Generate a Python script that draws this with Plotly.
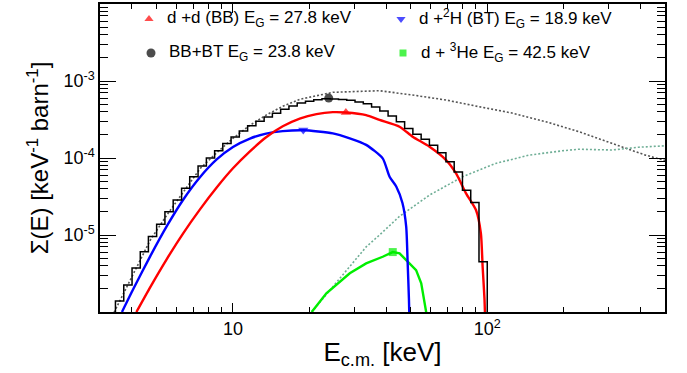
import plotly.graph_objects as go

# ---------------- data ----------------
# gray dotted envelope
gray_E = [3.3, 3.72, 4.06, 4.73, 5.5, 6.38, 7.43, 8.63, 10.0, 11.66, 13.5, 15.7, 18.3, 24.7,
          33.4, 37.7, 50.8, 68.9, 93.1, 125, 170, 229, 309, 419, 500]
gray_S = [8e-7, 1.75e-6, 3.18e-6, 8.6e-6, 1.82e-5, 3.65e-5, 7.3e-5, 1.17e-4, 1.8e-4, 2.66e-4,
          3.61e-4, 4.7e-4, 5.78e-4, 7.13e-4, 7.48e-4, 7.48e-4, 6.58e-4, 5.66e-4, 4.63e-4,
          3.84e-4, 2.96e-4, 2.2e-4, 1.55e-4, 1.09e-4, 9.3e-5]

# teal dotted curve
teal_E = [20.4, 24.7, 33.4, 37.7, 45.2, 59.3, 80, 108, 146, 197, 229, 309, 394, 500]
teal_S = [1e-6, 2.13e-6, 7.0e-6, 1.0e-5, 1.75e-5, 3.3e-5, 5.71e-5, 8.5e-5, 1.09e-4, 1.24e-4,
          1.3e-4, 1.27e-4, 1.38e-4, 1.44e-4]

# d + 3He (green)
green_E = [20.4, 23.3, 28.8, 33.4, 38.8, 42.5, 45.2, 49.4, 52.5, 55.0, 56.6, 57.5, 58.2]
green_S = [1e-6, 1.75e-6, 3.18e-6, 4.28e-6, 5.22e-6, 6.0e-6, 5.78e-6, 4.28e-6, 3.5e-6,
           2.36e-6, 1.43e-6, 1.0e-6, 5e-7]

# d + 2H (BT) (blue)
blue_E = [3.66, 4.06, 4.73, 5.5, 6.38, 7.43, 8.63, 10.0, 11.66, 13.5, 15.7, 18.9, 24.7, 28.8,
          33.4, 38.8, 41.3, 43.9, 46.4, 48.0, 48.6, 49.2, 49.6]
blue_S = [1e-6, 2.0e-6, 5.31e-6, 1.31e-5, 2.89e-5, 5.66e-5, 9.57e-5, 1.39e-4, 1.79e-4, 2.07e-4,
          2.23e-4, 2.29e-4, 2.09e-4, 1.8e-4, 1.48e-4, 9.9e-5, 5.7e-5, 4.24e-5, 2.6e-5, 1.28e-5,
          4.7e-6, 1.5e-6, 5e-7]

# d + d (BB) (red)
red_E = [4.17, 4.73, 5.5, 6.38, 7.43, 8.63, 10.0, 11.66, 13.5, 15.7, 18.3, 21.3, 24.7, 27.8,
         33.4, 37.7, 45.2, 50.9, 59.3, 68.9, 75.4, 82.5, 90.3, 94.4, 95.9, 97.5, 98.5]
red_S = [1e-6, 2.11e-6, 4.91e-6, 1.06e-5, 2.17e-5, 4.14e-5, 7.35e-5, 1.22e-4, 1.86e-4, 2.58e-4,
         3.25e-4, 3.72e-4, 3.94e-4, 3.9e-4, 3.61e-4, 3.12e-4, 2.55e-4, 1.89e-4, 1.4e-4, 9.4e-5,
         6.3e-5, 3.48e-5, 2.11e-5, 1.05e-5, 3.87e-6, 1.5e-6, 5e-7]

# BB+BT histogram (black): bin edges and bin contents
bb_bt_edges = [3.20, 3.45, 3.72, 4.01, 4.32, 4.65, 5.01, 5.40, 5.82, 6.28, 6.76, 7.29, 7.86, 8.47,
               9.12, 9.83, 10.59, 11.42, 12.31, 13.26, 14.29, 15.40, 16.60, 17.89, 19.28, 20.78,
               22.39, 24.13, 26.00, 28.02, 30.20, 32.55, 35.08, 37.80, 40.74, 43.91, 47.32,
               50.99, 54.96, 59.23, 63.83, 68.79, 74.13, 79.89, 86.10, 92.79, 100.0]
bb_bt_vals = [9e-7, 1.39e-6, 2.25e-6, 3.72e-6, 6.05e-6, 9.55e-6, 1.38e-5, 2.0e-5, 2.85e-5,
              4.05e-5, 5.7e-5, 7.9e-5, 1.0e-4, 1.24e-4, 1.54e-4, 1.88e-4, 2.24e-4, 2.62e-4,
              3.0e-4, 3.4e-4, 3.82e-4, 4.3e-4, 4.73e-4, 5.18e-4, 5.45e-4, 5.69e-4, 5.86e-4,
              5.83e-4, 5.73e-4, 5.62e-4, 5.32e-4, 5.05e-4, 4.61e-4, 4.07e-4, 3.52e-4, 2.95e-4,
              2.42e-4, 2.03e-4, 1.75e-4, 1.46e-4, 1.17e-4, 8.95e-5, 6.6e-5, 3.8e-5, 2.65e-5,
              4.5e-6]
hist_floor = 1e-7

# Gamow-peak markers
peak_names = ["d +d (BB) E<sub>G</sub> = 27.8 keV",
              "d +<sup>2</sup>H (BT) E<sub>G</sub> = 18.9 keV",
              "BB+BT E<sub>G</sub> = 23.8 keV",
              "d + <sup>3</sup>He E<sub>G</sub> = 42.5 keV"]
peak_E = [27.8, 18.9, 23.8, 42.5]
peak_S = [3.9e-4, 2.31e-4, 6.0e-4, 6.0e-6]

# axis ticks
x_tickvals = [10, 100]
x_ticktext = ["10", "10<sup>2</sup>"]
x_minor = [4, 5, 6, 7, 8, 9, 20, 30, 40, 50, 60, 70, 80, 90, 200, 300, 400]
y_tickvals = [1e-5, 1e-4, 1e-3]
y_ticktext = ["10<sup>-5</sup>", "10<sup>-4</sup>", "10<sup>-3</sup>"]
y_minor = [m * 10 ** d for d in (-6, -5, -4, -3) for m in (2, 3, 4, 5, 6, 7, 8, 9)]

# ---------------- styles ----------------
FONT = "Liberation Sans, Arial, Helvetica, sans-serif"
colors = ["#ff0000", "#0000ff", "#000000", "#00ee00"]
symbols = ["triangle-up", "triangle-down", "circle", "square"]
sizes = [9, 9, 9, 8]

W, H = 687, 373
ML, MR, MT, MB = 100, 22, 4, 61
PW, PH = W - ML - MR, H - MT - MB

fig = go.Figure()

fig.add_trace(go.Scatter(x=gray_E, y=gray_S, mode="lines",
                         line=dict(color="#555555", width=1.6, dash="2px,2px"), showlegend=False))
fig.add_trace(go.Scatter(x=teal_E, y=teal_S, mode="lines",
                         line=dict(color="#6fae96", width=1.6, dash="2px,2px"), showlegend=False))
fig.add_trace(go.Scatter(x=green_E, y=green_S, mode="lines",
                         line=dict(color="#00ee00", width=2.4), showlegend=False))
fig.add_trace(go.Scatter(x=blue_E, y=blue_S, mode="lines",
                         line=dict(color="#0000ff", width=2.4, shape="spline", smoothing=0.6),
                         showlegend=False))
fig.add_trace(go.Scatter(x=red_E, y=red_S, mode="lines",
                         line=dict(color="#ff0000", width=2.4, shape="spline", smoothing=0.6),
                         showlegend=False))

hx = list(bb_bt_edges)
hy = list(bb_bt_vals) + [hist_floor]
fig.add_trace(go.Scatter(x=[bb_bt_edges[0]] + hx, y=[hist_floor] + hy, mode="lines",
                         line=dict(color="#000000", width=1.5, shape="hv"), showlegend=False))

fig.add_trace(go.Scatter(x=peak_E, y=peak_S, mode="markers",
                         marker=dict(color=colors, symbol=symbols, size=sizes, line=dict(width=0)),
                         showlegend=False, cliponaxis=False))

# ---------------- hand-made legend (pixel layout) ----------------
leg_px = [(149, 19), (401, 19), (151, 53), (403, 53)]
leg_txt_dx = 16
lx = [(p[0] - ML) / PW for p in leg_px]
ly = [(H - MB - p[1]) / PH for p in leg_px]
fig.add_trace(go.Scatter(x=lx, y=ly, xaxis="x2", yaxis="y2", mode="markers",
                         marker=dict(color=colors, symbol=symbols, size=[8, 8, 9, 7],
                                     line=dict(width=0)),
                         showlegend=False, cliponaxis=False))
for i, name in enumerate(peak_names):
    fig.add_annotation(text=name, xref="paper", yref="paper",
                       x=(leg_px[i][0] + leg_txt_dx - ML) / PW, y=ly[i],
                       xanchor="left", yanchor="middle", showarrow=False,
                       font=dict(family=FONT, size=17, color="black"))

axis_common = dict(showgrid=False, zeroline=False, showline=True, linecolor="black",
                   linewidth=1.5, mirror="allticks", ticks="inside", tickcolor="black",
                   tickwidth=1.2, tickfont=dict(family=FONT, size=18, color="black"))

fig.update_layout(
    width=W, height=H,
    margin=dict(l=ML, r=MR, t=MT, b=MB, autoexpand=False),
    paper_bgcolor="white", plot_bgcolor="white",
    showlegend=False,
    xaxis=dict(type="log", range=[0.4771, 2.699], tickvals=x_tickvals, ticktext=x_ticktext,
               ticklen=9,
               minor=dict(tickvals=x_minor, ticks="inside", ticklen=5, tickwidth=1.2,
                          tickcolor="black"),
               title=dict(text="E<sub>c.m.</sub> [keV]", standoff=4,
                          font=dict(family=FONT, size=26, color="black")),
               **axis_common),
    yaxis=dict(type="log", range=[-6, -2], tickvals=y_tickvals, ticktext=y_ticktext,
               ticklen=16,
               minor=dict(tickvals=y_minor, ticks="inside", ticklen=8, tickwidth=1.2,
                          tickcolor="black"),
               title=dict(text="\u03a3(E) [keV<sup>-1</sup> barn<sup>-1</sup>]", standoff=8,
                          font=dict(family=FONT, size=24, color="black")),
               **axis_common),
    xaxis2=dict(overlaying="x", range=[0, 1], visible=False),
    yaxis2=dict(overlaying="y", range=[0, 1], visible=False),
)

fig.write_html("out.html")
